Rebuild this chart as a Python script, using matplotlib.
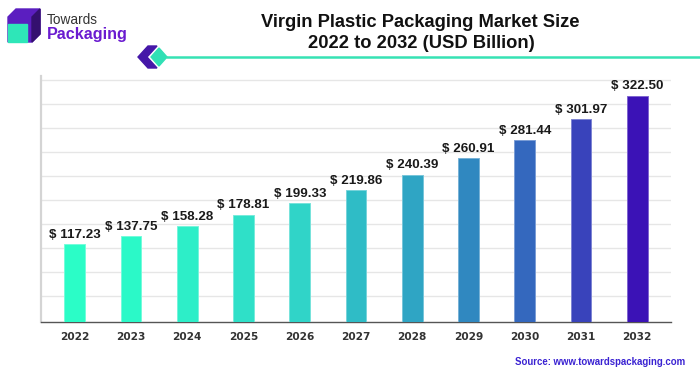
import matplotlib
matplotlib.use("Agg")
import matplotlib.pyplot as plt
from matplotlib.patches import Polygon, Rectangle
from matplotlib.colors import to_rgb
import numpy as np

# ---- data ----
years = ["2022", "2023", "2024", "2025", "2026", "2027", "2028", "2029", "2030", "2031", "2032"]
values = [117.23, 137.75, 158.28, 178.81, 199.33, 219.86, 240.39, 260.91, 281.44, 301.97, 322.50]
# bar heights as drawn in the reference (in gridline units)
bar_heights = [3.24, 3.58, 4.00, 4.46, 4.95, 5.50, 6.13, 6.82, 7.58, 8.45, 9.42]
bar_colors = ["#2BFDC7", "#2BF9C8", "#2DEEC8", "#2FE0C8", "#30D4C8", "#2FBCC6",
              "#2FA5C4", "#3088C0", "#3468BE", "#3943BB", "#3B12B6"]
labels = ["$ %.2f" % v for v in values]

W, H = 700, 375
fig = plt.figure(figsize=(7, 3.75), dpi=100)
fig.patch.set_facecolor("white")

def px(x, y):
    return (x / W, 1 - y / H)

ax = fig.add_axes([41 / W, (H - 322) / H, (671 - 41) / W, (322 - 76) / H])
x = np.arange(len(years))

def lighter(c, f=0.35):
    r, g, b = to_rgb(c)
    return (r + (1 - r) * f, g + (1 - g) * f, b + (1 - b) * f)

bars = ax.bar(x, bar_heights, width=0.37, color=bar_colors,
              edgecolor=[lighter(c) for c in bar_colors], linewidth=0.7, zorder=3)

for xi, h, lab in zip(x, bar_heights, labels):
    ax.annotate(lab, (xi, h), xytext=(0, 2.5), textcoords="offset points",
                ha="center", va="bottom", fontsize=9.6, fontweight="bold",
                family="Liberation Sans", color="#1a1a1a", zorder=4)

ax.set_xlim(-0.6, 10.6)
ax.set_ylim(0, 10.25)
ax.set_yticks(np.arange(1, 11) + 0.1)
ax.yaxis.grid(True, color="#e6e6e6", linewidth=1.0, zorder=0)
ax.tick_params(axis="y", length=0, labelleft=False)
ax.set_xticks(x)
ax.set_xticklabels(years, fontsize=7.6, fontweight="bold", family="DejaVu Sans", color="#333333")
ax.tick_params(axis="x", length=0, pad=7)
for s in ["top", "right"]:
    ax.spines[s].set_visible(False)
ax.spines["left"].set_color("#d4d4d4")
ax.spines["left"].set_linewidth(1.6)
ax.spines["bottom"].set_color("#555555")
ax.spines["bottom"].set_linewidth(1.0)
ax.set_axisbelow(True)

# ---- title ----
fig.text(*px(420, 27), "Virgin Plastic Packaging Market Size", ha="center", va="baseline",
         fontsize=13.2, fontweight="bold", family="Liberation Sans", color="#111111")
fig.text(*px(421, 48.5), "2022 to 2032 (USD Billion)", ha="center", va="baseline",
         fontsize=13.2, fontweight="bold", family="Liberation Sans", color="#111111")

# ---- decorative separator ----
fig.add_artist(plt.Line2D([167 / W, 1.0], [1 - 56.7 / H] * 2, color="#36E2B4", linewidth=1.8))
chev = Polygon([px(148, 46), px(157, 46), px(147, 57), px(157, 68), px(148, 68), px(138, 57)],
               closed=True, transform=fig.transFigure, color="#4517A8")
fig.add_artist(chev)
diamond = Polygon([px(159, 48), px(167, 57), px(159, 66), px(151, 57)],
                  closed=True, transform=fig.transFigure, color="#30E0B5")
fig.add_artist(diamond)

# ---- logo ----
cube_back = Polygon([px(8, 17), px(16, 9), px(40, 9), px(40, 34), px(32, 42), px(8, 42)],
                    closed=True, transform=fig.transFigure, color="#5B1EC0")
fig.add_artist(cube_back)
cube_right = Polygon([px(32, 17), px(40, 9), px(40, 34), px(32, 42)],
                     closed=True, transform=fig.transFigure, color="#34106F")
fig.add_artist(cube_right)
fig.add_artist(Rectangle(px(8, 42), 19 / W, 18 / H, transform=fig.transFigure, color="#2EE6B8"))
fig.text(*px(47, 24.5), "Towards", ha="left", va="baseline", fontsize=9.8,
         family="Liberation Sans", color="#333333")
fig.text(*px(47, 39.5), "Packaging", ha="left", va="baseline", fontsize=11.6, fontweight="bold",
         family="Liberation Sans", color="#6A1BD0")

# ---- source ----
fig.text(*px(685, 365), "Source: www.towardspackaging.com", ha="right", va="baseline",
         fontsize=6.9, fontweight="bold", family="Liberation Sans", color="#3A22D2")

fig.savefig("out.png", dpi=100, facecolor="white")
